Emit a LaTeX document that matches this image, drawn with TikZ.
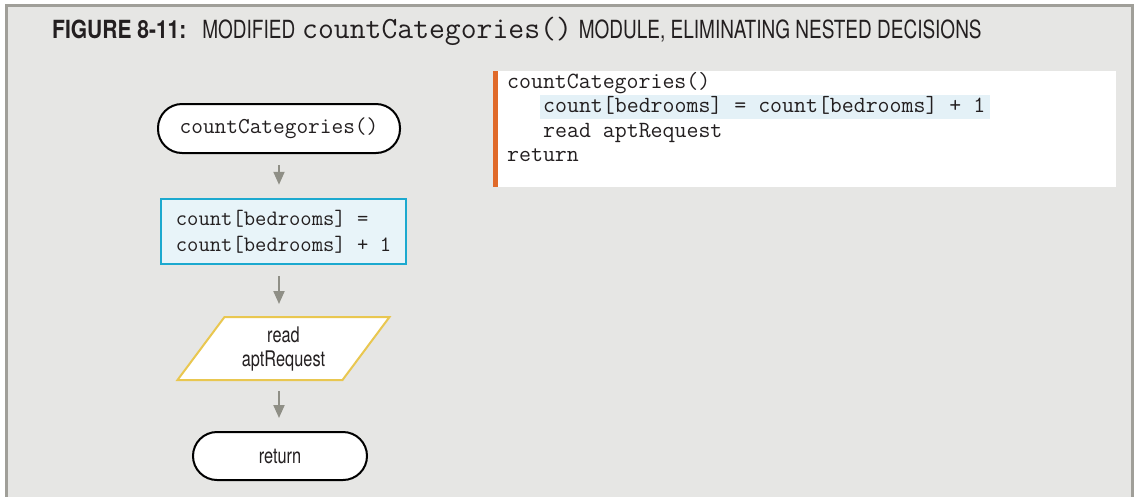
\documentclass[tikz,border=0pt]{standalone}
\usepackage{fontspec}
\setmainfont{TeX Gyre Heros}
\newfontfamily\condsans[FakeStretch=0.76]{TeX Gyre Heros}
\newfontfamily\condbold[FakeStretch=0.84]{TeX Gyre Heros Bold}
\newfontfamily\labelsans[FakeStretch=0.76]{TeX Gyre Heros}
\usetikzlibrary{arrows.meta,calc}

\definecolor{panelgray}{HTML}{E6E6E4}
\definecolor{framegray}{HTML}{A09F99}
\definecolor{inkdark}{HTML}{231F20}
\definecolor{barorange}{HTML}{E06A2A}
\definecolor{lineblue}{HTML}{E4F1F7}
\definecolor{procfill}{HTML}{E8F4F9}
\definecolor{procline}{HTML}{1CA9CF}
\definecolor{ioyellow}{HTML}{E9C750}
\definecolor{arrowgray}{HTML}{8F8F86}

\tikzset{
  codeline/.style={anchor=base west, inner sep=0pt, text=inkdark,
    font=\ttfamily\fontsize{23.2}{25}\selectfont},
  terminal/.style={draw=black, fill=white, line width=2pt, rounded corners=24pt,
    text=inkdark},
  procbox/.style={draw=procline, fill=procfill, line width=2.5pt, text=inkdark,
    align=left, font=\ttfamily\fontsize{22}{26}\selectfont},
  iobox/.style={draw=ioyellow, fill=white, line width=2pt, line join=miter},
  labeltext/.style={inner sep=0pt, align=center, text=inkdark,
    font=\labelsans\fontsize{21.5}{24}\selectfont},
  flowarrow/.style={draw=arrowgray, line width=2pt,
    -{Triangle[width=11pt,length=13pt]}, shorten <=11pt, shorten >=13pt},
}

\begin{document}
\begin{tikzpicture}[x=1pt,y=-1pt]
\useasboundingbox (0,0) rectangle (1136,496);
\fill[white] (0,0) rectangle (1136,496);

% panel and its frame
\fill[panelgray] (6.5,5.5) rectangle (1132.5,500);
\draw[framegray, line width=3pt] (6.5,500) -- (6.5,5.5) -- (1132.5,5.5) -- (1132.5,500);

% caption
\node[anchor=base west, inner sep=0pt, text=inkdark] (caption) at (52,38.5)
  {\fontsize{25}{30}\selectfont{\condbold FIGURE 8-11:}\hspace{16pt}{\condsans MODIFIED}
   {\ttfamily\fontsize{30.8}{30}\selectfont countCategories()}
   {\condsans MODULE, ELIMINATING NESTED DECISIONS}};

% pseudocode listing
\fill[white] (493,71) rectangle (1116,187);
\fill[barorange] (493,71) rectangle (498,187);
\fill[lineblue] (540,95) rectangle (990,119);
\node[codeline] (code1) at (507,88) {countCategories()};
\node[codeline] (code2) at (543,112.5) {count[bedrooms] = count[bedrooms] + 1};
\node[codeline] (code3) at (543,137) {read aptRequest};
\node[codeline] (code4) at (507,161.5) {return};

% flowchart
\node[terminal, minimum width=242pt, minimum height=49pt,
  font=\ttfamily\fontsize{22.7}{25}\selectfont] (start) at (279,128.5) {countCategories()};
\node[procbox, minimum width=245pt, minimum height=65pt] (proc) at (283.5,231.5)
  {count[bedrooms] =\\count[bedrooms] + 1};

% input step: parallelogram round the label
\coordinate (readc) at (283.5,348.5);
\coordinate (readtop) at ($(readc)+(0,-31.5)$);
\coordinate (readbot) at ($(readc)+(0,31.5)$);
\draw[iobox] ($(readc)+(-59,-31.5)$) -- ($(readc)+(106,-31.5)$) -- ($(readc)+(59,31.5)$)
  -- ($(readc)+(-106,31.5)$) -- cycle;
\node[labeltext] (read) at (readc) {read\\aptRequest};

\node[terminal, minimum width=174pt, minimum height=48pt,
  font=\labelsans\fontsize{21.5}{24}\selectfont] (ret) at (280,456) {return};

\draw[flowarrow] (start.south) -- (start.south |- proc.north);
\draw[flowarrow] (start.south |- proc.south) -- (start.south |- readtop);
\draw[flowarrow] (start.south |- readbot) -- (start.south |- ret.north);
\end{tikzpicture}
\end{document}
